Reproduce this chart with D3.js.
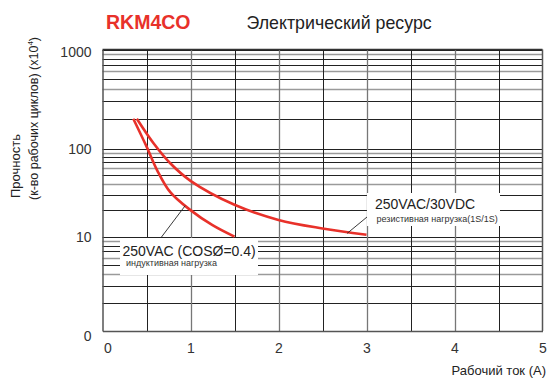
<!DOCTYPE html>
<html><head><meta charset="utf-8">
<script src="https://cdn.jsdelivr.net/npm/d3@7"></script>
<style>
body{margin:0;background:#fff}
svg{display:block}
text{font-family:"Liberation Sans",Arial,Helvetica,sans-serif}
</style>
</head><body>
<svg id="chart" width="553" height="381"></svg>
<script>
// ---- data ----
const titleText = "RKM4CO";
const subtitleText = "Электрический ресурс";
const xTickValues = [0, 1, 2, 3, 4, 5];
const xTickLabels = ["0", "1", "2", "3", "4", "5"];
const yTickValues = [1, 10, 100, 1000];
const yTickLabels = ["0", "10", "100", "1000"];
const xGridValues = [0.5, 1, 1.5, 2, 2.5, 3, 3.5, 4, 4.5];
const yGridMultipliers = [2, 3, 4, 5, 6, 7, 8, 9];
const yGridDecades = [1, 10, 100];
// inductive load 250VAC (cos=0.4)
const inductiveCurrent = [0.35, 0.5, 0.62, 0.77, 1.0, 1.25, 1.5];
const inductiveLife    = [200, 105, 57, 32, 20, 13.5, 10];
// resistive load 250VAC/30VDC
const resistiveCurrent = [0.39, 0.58, 0.77, 1.0, 1.5, 2.0, 2.5, 3.0];
const resistiveLife    = [200, 113, 68, 43, 23, 15.5, 12.4, 10.5];
const inductiveLabel = "250VAC (COSØ=0.4)";
const inductiveSub = "индуктивная нагрузка";
const resistiveLabel = "250VAC/30VDC";
const resistiveSub = "резистивная нагрузка(1S/1S)";
const xTitle = "Рабочий ток (А)";
const yTitle1 = "Прочность";
const yTitle2 = "(к-во рабочих циклов) (x10";
const yTitleSup = "4";

// ---- scales ----
const svg = d3.select("#chart");
const x = d3.scaleLinear().domain([0, 5]).range([102.5, 542.5]);
const y = d3.scaleLog().domain([1, 10, 100, 1000]).range([331, 236.7, 148.5, 49.5]);

const red = "#e8312a";

// title
svg.append("text").attr("x", 106).attr("y", 28.5)
  .attr("font-size", 19.5).attr("font-weight", "bold").attr("fill", red)
  .text(titleText);
svg.append("text").attr("x", 246.5).attr("y", 28.5)
  .attr("font-size", 17.8).attr("fill", "#222")
  .text(subtitleText);

// grid
const grid = svg.append("g");
const yMinor = [];
yGridDecades.forEach(d => yGridMultipliers.forEach(m => yMinor.push({v: d * m, m})));
const grayMult = new Set([9, 6, 4]);
grid.selectAll("line.h").data(yMinor).join("line")
  .attr("x1", x(0)).attr("x2", x(5))
  .attr("y1", d => Math.round(y(d.v)) + 0.5).attr("y2", d => Math.round(y(d.v)) + 0.5)
  .attr("stroke", d => grayMult.has(d.m) ? "#9a9a9a" : "#222")
  .attr("stroke-width", d => grayMult.has(d.m) ? 1.6 : 1);
grid.selectAll("line.hm").data([10, 100, 1000]).join("line")
  .attr("x1", x(0)).attr("x2", x(5))
  .attr("y1", d => Math.round(y(d)) + 0.5).attr("y2", d => Math.round(y(d)) + 0.5)
  .attr("stroke", "#222").attr("stroke-width", 1);
grid.selectAll("line.v").data(xGridValues).join("line")
  .attr("x1", d => Math.round(x(d)) + 0.5).attr("x2", d => Math.round(x(d)) + 0.5)
  .attr("y1", y(1000)).attr("y2", y(1))
  .attr("stroke", d => Number.isInteger(d) ? "#777" : "#222")
  .attr("stroke-width", d => Number.isInteger(d) ? 1.3 : 1);

// axes
const yAxis = svg.append("g").attr("transform", `translate(${x(0)},0)`)
  .call(d3.axisLeft(y).tickValues(yTickValues).tickFormat((d, i) => yTickLabels[i]).tickSize(0).tickPadding(11));
yAxis.select(".domain").attr("stroke", "#555").attr("stroke-width", 1.5);
yAxis.selectAll("text").attr("font-size", 14).attr("fill", "#333")
  .attr("font-family", "Liberation Sans, Arial, sans-serif")
  .attr("dy", (d, i) => i === 0 ? "0.65em" : (i === 3 ? "0.5em" : "0.35em"));

const xAxis = svg.append("g").attr("transform", `translate(0,${y(1)})`)
  .call(d3.axisBottom(x).tickValues(xTickValues).tickFormat((d, i) => xTickLabels[i]).tickSize(0).tickPadding(12));
xAxis.select(".domain").attr("stroke", "#555").attr("stroke-width", 1.5);
xAxis.selectAll("text").attr("font-size", 14).attr("fill", "#333")
  .attr("font-family", "Liberation Sans, Arial, sans-serif")
  .attr("dx", (d, i) => i === 0 ? 5 : 0);

// top/right border
svg.append("line").attr("x1", x(0)).attr("x2", x(5)).attr("y1", y(1000)).attr("y2", y(1000)).attr("stroke", "#333").attr("stroke-width", 1.3);
svg.append("line").attr("x1", x(5)).attr("x2", x(5)).attr("y1", y(1000)).attr("y2", y(1)).attr("stroke", "#555").attr("stroke-width", 1.5);

// curves
const line = d3.line().x(d => x(d[0])).y(d => y(d[1])).curve(d3.curveCatmullRom.alpha(0.5));
svg.append("path").datum(inductiveCurrent.map((c, i) => [c, inductiveLife[i]]))
  .attr("d", line).attr("fill", "none").attr("stroke", red).attr("stroke-width", 2.6);
svg.append("path").datum(resistiveCurrent.map((c, i) => [c, resistiveLife[i]]))
  .attr("d", line).attr("fill", "none").attr("stroke", red).attr("stroke-width", 2.6);

// annotation boxes
svg.append("rect").attr("x", 120).attr("y", 238).attr("width", 138).attr("height", 37).attr("fill", "#fff");
svg.append("rect").attr("x", 367).attr("y", 193).attr("width", 133).attr("height", 33).attr("fill", "#fff");

// leader lines
svg.append("line").attr("x1", 161.5).attr("y1", 237).attr("x2", x(0.94)).attr("y2", y(22.5))
  .attr("stroke", "#222").attr("stroke-width", 0.9);
svg.append("line").attr("x1", x(2.78)).attr("y1", y(10.9)).attr("x2", 367).attr("y2", 217)
  .attr("stroke", "#222").attr("stroke-width", 0.9);

// annotation texts
svg.append("text").attr("x", 122.5).attr("y", 255.5).attr("font-size", 14).attr("fill", "#222").text(inductiveLabel);
svg.append("text").attr("x", 126).attr("y", 266).attr("font-size", 9).attr("fill", "#333").text(inductiveSub);
svg.append("text").attr("x", 375).attr("y", 208.5).attr("font-size", 14).attr("fill", "#222").text(resistiveLabel);
svg.append("text").attr("x", 376.5).attr("y", 221.5).attr("font-size", 9).attr("fill", "#333").text(resistiveSub);

// axis titles
svg.append("text").attr("x", 546).attr("y", 375).attr("text-anchor", "end")
  .attr("font-size", 13).attr("fill", "#222").text(xTitle);
svg.append("text").attr("transform", "translate(20,198) rotate(-90)")
  .attr("font-size", 13).attr("fill", "#222").text(yTitle1);
const yt2 = svg.append("text").attr("transform", "translate(38,200) rotate(-90)")
  .attr("font-size", 12.5).attr("fill", "#222");
yt2.append("tspan").text(yTitle2);
yt2.append("tspan").attr("font-size", 8).attr("dy", -5).text(yTitleSup);
yt2.append("tspan").attr("dy", 5).text(")");
</script>
</body></html>
